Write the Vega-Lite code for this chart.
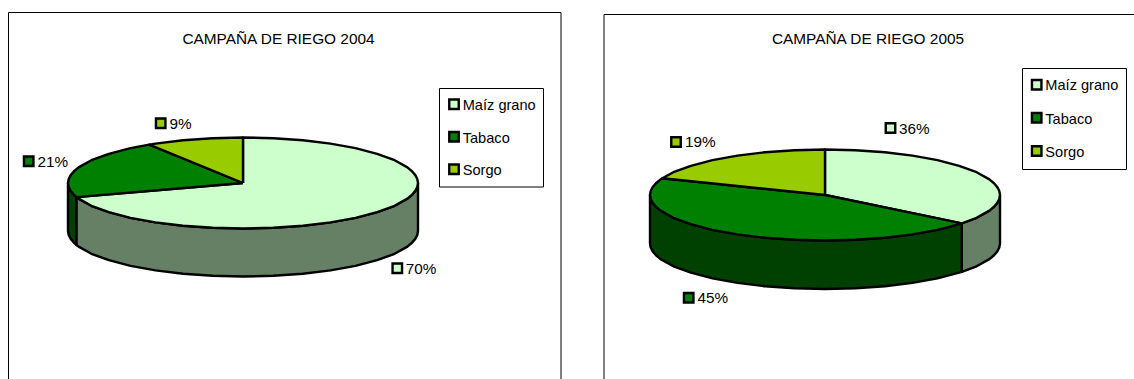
{
  "$schema": "https://vega.github.io/schema/vega-lite/v6.json",
  "width": 1134,
  "height": 379,
  "autosize": {"type": "fit", "contains": "padding"},
  "padding": 0,
  "background": "#ffffff",
  "view": {"stroke": null},
  "config": {"text": {"font": "Liberation Sans"}},
  "datasets": {
    "marcos": [
      {"x": 8.5, "x2": 561, "y": 12.5, "y2": 420},
      {"x": 604, "x2": 1200, "y": 14.5, "y2": 420},
      {"x": 439.5, "x2": 543.5, "y": 88.5, "y2": 187},
      {"x": 1022.5, "x2": 1126.5, "y": 68.5, "y2": 169.5}
    ],
    "titulos": [
      {"t": "CAMPAÑA DE RIEGO 2004", "x": 278.5, "y": 44},
      {"t": "CAMPAÑA DE RIEGO 2005", "x": 868, "y": 44}
    ],
    "laterales": [
      {"a": 2004, "s": "Tabaco (lateral)", "x": 76.6, "y": 197.1, "y2": 245.1},
      {"a": 2004, "s": "Tabaco (lateral)", "x": 74, "y": 194.8, "y2": 242.8},
      {"a": 2004, "s": "Tabaco (lateral)", "x": 70.7, "y": 190.9, "y2": 238.9},
      {"a": 2004, "s": "Tabaco (lateral)", "x": 68.7, "y": 187, "y2": 235},
      {"a": 2004, "s": "Tabaco (lateral)", "x": 68, "y": 183, "y2": 231},
      {"a": 2004, "s": "Maíz grano (lateral)", "x": 418, "y": 183, "y2": 231},
      {"a": 2004, "s": "Maíz grano (lateral)", "x": 417.3, "y": 187, "y2": 235},
      {"a": 2004, "s": "Maíz grano (lateral)", "x": 415.3, "y": 190.9, "y2": 238.9},
      {"a": 2004, "s": "Maíz grano (lateral)", "x": 412, "y": 194.8, "y2": 242.8},
      {"a": 2004, "s": "Maíz grano (lateral)", "x": 407.4, "y": 198.6, "y2": 246.6},
      {"a": 2004, "s": "Maíz grano (lateral)", "x": 394.6, "y": 205.8, "y2": 253.8},
      {"a": 2004, "s": "Maíz grano (lateral)", "x": 377.1, "y": 212.2, "y2": 260.2},
      {"a": 2004, "s": "Maíz grano (lateral)", "x": 355.5, "y": 217.9, "y2": 265.9},
      {"a": 2004, "s": "Maíz grano (lateral)", "x": 330.5, "y": 222.4, "y2": 270.4},
      {"a": 2004, "s": "Maíz grano (lateral)", "x": 302.9, "y": 225.8, "y2": 273.8},
      {"a": 2004, "s": "Maíz grano (lateral)", "x": 273.4, "y": 227.8, "y2": 275.8},
      {"a": 2004, "s": "Maíz grano (lateral)", "x": 243, "y": 228.5, "y2": 276.5},
      {"a": 2004, "s": "Maíz grano (lateral)", "x": 212.6, "y": 227.8, "y2": 275.8},
      {"a": 2004, "s": "Maíz grano (lateral)", "x": 183.1, "y": 225.8, "y2": 273.8},
      {"a": 2004, "s": "Maíz grano (lateral)", "x": 155.5, "y": 222.4, "y2": 270.4},
      {"a": 2004, "s": "Maíz grano (lateral)", "x": 130.5, "y": 217.9, "y2": 265.9},
      {"a": 2004, "s": "Maíz grano (lateral)", "x": 108.9, "y": 212.2, "y2": 260.2},
      {"a": 2004, "s": "Maíz grano (lateral)", "x": 91.4, "y": 205.8, "y2": 253.8},
      {"a": 2004, "s": "Maíz grano (lateral)", "x": 78.6, "y": 198.6, "y2": 246.6},
      {"a": 2004, "s": "Maíz grano (lateral)", "x": 76.6, "y": 197.1, "y2": 245.1},
      {"a": 2005, "s": "Maíz grano (lateral)", "x": 1000, "y": 195, "y2": 243.5},
      {"a": 2005, "s": "Maíz grano (lateral)", "x": 999.3, "y": 199, "y2": 247.5},
      {"a": 2005, "s": "Maíz grano (lateral)", "x": 997.3, "y": 202.9, "y2": 251.4},
      {"a": 2005, "s": "Maíz grano (lateral)", "x": 994, "y": 206.8, "y2": 255.3},
      {"a": 2005, "s": "Maíz grano (lateral)", "x": 989.4, "y": 210.6, "y2": 259.1},
      {"a": 2005, "s": "Maíz grano (lateral)", "x": 976.6, "y": 217.8, "y2": 266.3},
      {"a": 2005, "s": "Maíz grano (lateral)", "x": 961.8, "y": 223.4, "y2": 271.9},
      {"a": 2005, "s": "Tabaco (lateral)", "x": 961.8, "y": 223.4, "y2": 271.9},
      {"a": 2005, "s": "Tabaco (lateral)", "x": 959.1, "y": 224.2, "y2": 272.7},
      {"a": 2005, "s": "Tabaco (lateral)", "x": 937.5, "y": 229.9, "y2": 278.4},
      {"a": 2005, "s": "Tabaco (lateral)", "x": 912.5, "y": 234.4, "y2": 282.9},
      {"a": 2005, "s": "Tabaco (lateral)", "x": 884.9, "y": 237.8, "y2": 286.3},
      {"a": 2005, "s": "Tabaco (lateral)", "x": 855.4, "y": 239.8, "y2": 288.3},
      {"a": 2005, "s": "Tabaco (lateral)", "x": 825, "y": 240.5, "y2": 289},
      {"a": 2005, "s": "Tabaco (lateral)", "x": 794.6, "y": 239.8, "y2": 288.3},
      {"a": 2005, "s": "Tabaco (lateral)", "x": 765.1, "y": 237.8, "y2": 286.3},
      {"a": 2005, "s": "Tabaco (lateral)", "x": 737.5, "y": 234.4, "y2": 282.9},
      {"a": 2005, "s": "Tabaco (lateral)", "x": 712.5, "y": 229.9, "y2": 278.4},
      {"a": 2005, "s": "Tabaco (lateral)", "x": 690.9, "y": 224.2, "y2": 272.7},
      {"a": 2005, "s": "Tabaco (lateral)", "x": 673.4, "y": 217.8, "y2": 266.3},
      {"a": 2005, "s": "Tabaco (lateral)", "x": 660.6, "y": 210.6, "y2": 259.1},
      {"a": 2005, "s": "Tabaco (lateral)", "x": 656, "y": 206.8, "y2": 255.3},
      {"a": 2005, "s": "Tabaco (lateral)", "x": 652.7, "y": 202.9, "y2": 251.4},
      {"a": 2005, "s": "Tabaco (lateral)", "x": 650.7, "y": 199, "y2": 247.5},
      {"a": 2005, "s": "Tabaco (lateral)", "x": 650, "y": 195, "y2": 243.5}
    ],
    "sectores": [
      {"a": 2004, "s": "Maíz grano", "i": 0, "x": 243, "y": 183},
      {"a": 2004, "s": "Maíz grano", "i": 1, "x": 243, "y": 137.5},
      {"a": 2004, "s": "Maíz grano", "i": 2, "x": 273.4, "y": 138.2},
      {"a": 2004, "s": "Maíz grano", "i": 3, "x": 302.9, "y": 140.2},
      {"a": 2004, "s": "Maíz grano", "i": 4, "x": 330.5, "y": 143.6},
      {"a": 2004, "s": "Maíz grano", "i": 5, "x": 355.5, "y": 148.1},
      {"a": 2004, "s": "Maíz grano", "i": 6, "x": 377.1, "y": 153.8},
      {"a": 2004, "s": "Maíz grano", "i": 7, "x": 394.6, "y": 160.2},
      {"a": 2004, "s": "Maíz grano", "i": 8, "x": 407.4, "y": 167.4},
      {"a": 2004, "s": "Maíz grano", "i": 9, "x": 412, "y": 171.2},
      {"a": 2004, "s": "Maíz grano", "i": 10, "x": 415.3, "y": 175.1},
      {"a": 2004, "s": "Maíz grano", "i": 11, "x": 417.3, "y": 179},
      {"a": 2004, "s": "Maíz grano", "i": 12, "x": 418, "y": 183},
      {"a": 2004, "s": "Maíz grano", "i": 13, "x": 417.3, "y": 187},
      {"a": 2004, "s": "Maíz grano", "i": 14, "x": 415.3, "y": 190.9},
      {"a": 2004, "s": "Maíz grano", "i": 15, "x": 412, "y": 194.8},
      {"a": 2004, "s": "Maíz grano", "i": 16, "x": 407.4, "y": 198.6},
      {"a": 2004, "s": "Maíz grano", "i": 17, "x": 394.6, "y": 205.8},
      {"a": 2004, "s": "Maíz grano", "i": 18, "x": 377.1, "y": 212.2},
      {"a": 2004, "s": "Maíz grano", "i": 19, "x": 355.5, "y": 217.9},
      {"a": 2004, "s": "Maíz grano", "i": 20, "x": 330.5, "y": 222.4},
      {"a": 2004, "s": "Maíz grano", "i": 21, "x": 302.9, "y": 225.8},
      {"a": 2004, "s": "Maíz grano", "i": 22, "x": 273.4, "y": 227.8},
      {"a": 2004, "s": "Maíz grano", "i": 23, "x": 243, "y": 228.5},
      {"a": 2004, "s": "Maíz grano", "i": 24, "x": 212.6, "y": 227.8},
      {"a": 2004, "s": "Maíz grano", "i": 25, "x": 183.1, "y": 225.8},
      {"a": 2004, "s": "Maíz grano", "i": 26, "x": 155.5, "y": 222.4},
      {"a": 2004, "s": "Maíz grano", "i": 27, "x": 130.5, "y": 217.9},
      {"a": 2004, "s": "Maíz grano", "i": 28, "x": 108.9, "y": 212.2},
      {"a": 2004, "s": "Maíz grano", "i": 29, "x": 91.4, "y": 205.8},
      {"a": 2004, "s": "Maíz grano", "i": 30, "x": 78.6, "y": 198.6},
      {"a": 2004, "s": "Maíz grano", "i": 31, "x": 76.6, "y": 197.1},
      {"a": 2004, "s": "Maíz grano", "i": 32, "x": 243, "y": 183},
      {"a": 2004, "s": "Tabaco", "i": 0, "x": 243, "y": 183},
      {"a": 2004, "s": "Tabaco", "i": 1, "x": 76.6, "y": 197.1},
      {"a": 2004, "s": "Tabaco", "i": 2, "x": 74, "y": 194.8},
      {"a": 2004, "s": "Tabaco", "i": 3, "x": 70.7, "y": 190.9},
      {"a": 2004, "s": "Tabaco", "i": 4, "x": 68.7, "y": 187},
      {"a": 2004, "s": "Tabaco", "i": 5, "x": 68, "y": 183},
      {"a": 2004, "s": "Tabaco", "i": 6, "x": 68.7, "y": 179},
      {"a": 2004, "s": "Tabaco", "i": 7, "x": 70.7, "y": 175.1},
      {"a": 2004, "s": "Tabaco", "i": 8, "x": 74, "y": 171.2},
      {"a": 2004, "s": "Tabaco", "i": 9, "x": 78.6, "y": 167.4},
      {"a": 2004, "s": "Tabaco", "i": 10, "x": 91.4, "y": 160.2},
      {"a": 2004, "s": "Tabaco", "i": 11, "x": 108.9, "y": 153.8},
      {"a": 2004, "s": "Tabaco", "i": 12, "x": 130.5, "y": 148.1},
      {"a": 2004, "s": "Tabaco", "i": 13, "x": 149.2, "y": 144.6},
      {"a": 2004, "s": "Tabaco", "i": 14, "x": 243, "y": 183},
      {"a": 2004, "s": "Sorgo", "i": 0, "x": 243, "y": 183},
      {"a": 2004, "s": "Sorgo", "i": 1, "x": 149.2, "y": 144.6},
      {"a": 2004, "s": "Sorgo", "i": 2, "x": 155.5, "y": 143.6},
      {"a": 2004, "s": "Sorgo", "i": 3, "x": 183.1, "y": 140.2},
      {"a": 2004, "s": "Sorgo", "i": 4, "x": 212.6, "y": 138.2},
      {"a": 2004, "s": "Sorgo", "i": 5, "x": 243, "y": 137.5},
      {"a": 2004, "s": "Sorgo", "i": 6, "x": 243, "y": 183},
      {"a": 2005, "s": "Maíz grano", "i": 0, "x": 825, "y": 195},
      {"a": 2005, "s": "Maíz grano", "i": 1, "x": 825, "y": 149.5},
      {"a": 2005, "s": "Maíz grano", "i": 2, "x": 855.4, "y": 150.2},
      {"a": 2005, "s": "Maíz grano", "i": 3, "x": 884.9, "y": 152.2},
      {"a": 2005, "s": "Maíz grano", "i": 4, "x": 912.5, "y": 155.6},
      {"a": 2005, "s": "Maíz grano", "i": 5, "x": 937.5, "y": 160.1},
      {"a": 2005, "s": "Maíz grano", "i": 6, "x": 959.1, "y": 165.8},
      {"a": 2005, "s": "Maíz grano", "i": 7, "x": 976.6, "y": 172.2},
      {"a": 2005, "s": "Maíz grano", "i": 8, "x": 989.4, "y": 179.4},
      {"a": 2005, "s": "Maíz grano", "i": 9, "x": 994, "y": 183.2},
      {"a": 2005, "s": "Maíz grano", "i": 10, "x": 997.3, "y": 187.1},
      {"a": 2005, "s": "Maíz grano", "i": 11, "x": 999.3, "y": 191},
      {"a": 2005, "s": "Maíz grano", "i": 12, "x": 1000, "y": 195},
      {"a": 2005, "s": "Maíz grano", "i": 13, "x": 999.3, "y": 199},
      {"a": 2005, "s": "Maíz grano", "i": 14, "x": 997.3, "y": 202.9},
      {"a": 2005, "s": "Maíz grano", "i": 15, "x": 994, "y": 206.8},
      {"a": 2005, "s": "Maíz grano", "i": 16, "x": 989.4, "y": 210.6},
      {"a": 2005, "s": "Maíz grano", "i": 17, "x": 976.6, "y": 217.8},
      {"a": 2005, "s": "Maíz grano", "i": 18, "x": 961.8, "y": 223.4},
      {"a": 2005, "s": "Maíz grano", "i": 19, "x": 825, "y": 195},
      {"a": 2005, "s": "Tabaco", "i": 0, "x": 825, "y": 195},
      {"a": 2005, "s": "Tabaco", "i": 1, "x": 961.8, "y": 223.4},
      {"a": 2005, "s": "Tabaco", "i": 2, "x": 959.1, "y": 224.2},
      {"a": 2005, "s": "Tabaco", "i": 3, "x": 937.5, "y": 229.9},
      {"a": 2005, "s": "Tabaco", "i": 4, "x": 912.5, "y": 234.4},
      {"a": 2005, "s": "Tabaco", "i": 5, "x": 884.9, "y": 237.8},
      {"a": 2005, "s": "Tabaco", "i": 6, "x": 855.4, "y": 239.8},
      {"a": 2005, "s": "Tabaco", "i": 7, "x": 825, "y": 240.5},
      {"a": 2005, "s": "Tabaco", "i": 8, "x": 794.6, "y": 239.8},
      {"a": 2005, "s": "Tabaco", "i": 9, "x": 765.1, "y": 237.8},
      {"a": 2005, "s": "Tabaco", "i": 10, "x": 737.5, "y": 234.4},
      {"a": 2005, "s": "Tabaco", "i": 11, "x": 712.5, "y": 229.9},
      {"a": 2005, "s": "Tabaco", "i": 12, "x": 690.9, "y": 224.2},
      {"a": 2005, "s": "Tabaco", "i": 13, "x": 673.4, "y": 217.8},
      {"a": 2005, "s": "Tabaco", "i": 14, "x": 660.6, "y": 210.6},
      {"a": 2005, "s": "Tabaco", "i": 15, "x": 656, "y": 206.8},
      {"a": 2005, "s": "Tabaco", "i": 16, "x": 652.7, "y": 202.9},
      {"a": 2005, "s": "Tabaco", "i": 17, "x": 650.7, "y": 199},
      {"a": 2005, "s": "Tabaco", "i": 18, "x": 650, "y": 195},
      {"a": 2005, "s": "Tabaco", "i": 19, "x": 650.7, "y": 191},
      {"a": 2005, "s": "Tabaco", "i": 20, "x": 652.7, "y": 187.1},
      {"a": 2005, "s": "Tabaco", "i": 21, "x": 656, "y": 183.2},
      {"a": 2005, "s": "Tabaco", "i": 22, "x": 660.6, "y": 179.4},
      {"a": 2005, "s": "Tabaco", "i": 23, "x": 662.3, "y": 178.2},
      {"a": 2005, "s": "Tabaco", "i": 24, "x": 825, "y": 195},
      {"a": 2005, "s": "Sorgo", "i": 0, "x": 825, "y": 195},
      {"a": 2005, "s": "Sorgo", "i": 1, "x": 662.3, "y": 178.2},
      {"a": 2005, "s": "Sorgo", "i": 2, "x": 673.4, "y": 172.2},
      {"a": 2005, "s": "Sorgo", "i": 3, "x": 690.9, "y": 165.8},
      {"a": 2005, "s": "Sorgo", "i": 4, "x": 712.5, "y": 160.1},
      {"a": 2005, "s": "Sorgo", "i": 5, "x": 737.5, "y": 155.6},
      {"a": 2005, "s": "Sorgo", "i": 6, "x": 765.1, "y": 152.2},
      {"a": 2005, "s": "Sorgo", "i": 7, "x": 794.6, "y": 150.2},
      {"a": 2005, "s": "Sorgo", "i": 8, "x": 825, "y": 149.5},
      {"a": 2005, "s": "Sorgo", "i": 9, "x": 825, "y": 195}
    ],
    "porcentajes": [
      {"a": 2004, "s": "Maíz grano", "pct": 0.70, "x": 397.3, "y": 268.3, "tx": 405.7, "ty": 274},
      {"a": 2004, "s": "Tabaco", "pct": 0.21, "x": 28.7, "y": 161.3, "tx": 37.5, "ty": 167.3},
      {"a": 2004, "s": "Sorgo", "pct": 0.09, "x": 160.7, "y": 123.3, "tx": 169.5, "ty": 129.3},
      {"a": 2005, "s": "Maíz grano", "pct": 0.36, "x": 890.5, "y": 128, "tx": 899, "ty": 134},
      {"a": 2005, "s": "Tabaco", "pct": 0.45, "x": 688.7, "y": 297.7, "tx": 697.5, "ty": 303.3},
      {"a": 2005, "s": "Sorgo", "pct": 0.19, "x": 676, "y": 142, "tx": 685, "ty": 147.3}
    ],
    "leyendas": [
      {"a": 2004, "s": "Maíz grano", "x": 454, "y": 104.3, "tx": 462.7, "ty": 110.3},
      {"a": 2004, "s": "Tabaco", "x": 454, "y": 136.7, "tx": 462.7, "ty": 143.3},
      {"a": 2004, "s": "Sorgo", "x": 454, "y": 169.3, "tx": 462.7, "ty": 175.3},
      {"a": 2005, "s": "Maíz grano", "x": 1036.7, "y": 84.7, "tx": 1045.3, "ty": 90.3},
      {"a": 2005, "s": "Tabaco", "x": 1036.7, "y": 117.7, "tx": 1045.3, "ty": 124},
      {"a": 2005, "s": "Sorgo", "x": 1036.7, "y": 151, "tx": 1045.3, "ty": 157.3}
    ]
  },
  "layer": [
    {
      "data": {"name": "marcos"},
      "mark": {"type": "rect", "fill": "#ffffff", "stroke": "#000000", "strokeWidth": 1, "clip": true},
      "encoding": {
        "x": {"field": "x", "type": "quantitative", "axis": null, "scale": {"domain": [0, 1134], "nice": false, "zero": false}},
        "x2": {"field": "x2"},
        "y": {"field": "y", "type": "quantitative", "axis": null, "scale": {"domain": [379, 0], "nice": false, "zero": false}},
        "y2": {"field": "y2"}
      }
    },
    {
      "data": {"name": "titulos"},
      "mark": {"type": "text", "font": "Liberation Sans", "fontSize": 15.4, "align": "center", "baseline": "alphabetic", "color": "#000000"},
      "encoding": {
        "x": {"field": "x", "type": "quantitative"},
        "y": {"field": "y", "type": "quantitative"},
        "text": {"field": "t"}
      }
    },
    {
      "data": {"name": "laterales"},
      "mark": {"type": "area", "stroke": "#000000", "strokeWidth": 2.4, "strokeJoin": "round", "opacity": 1},
      "encoding": {
        "x": {"field": "x", "type": "quantitative"},
        "y": {"field": "y", "type": "quantitative"},
        "y2": {"field": "y2"},
        "detail": {"field": "a"},
        "fill": {"field": "s", "type": "nominal", "legend": null,
          "scale": {
            "domain": ["Maíz grano", "Tabaco", "Sorgo", "Maíz grano (lateral)", "Tabaco (lateral)"],
            "range": ["#CCFFCC", "#008000", "#99CC00", "#668066", "#004000"]
          }
        }
      }
    },
    {
      "data": {"name": "sectores"},
      "mark": {"type": "line", "stroke": "#000000", "strokeWidth": 2.4, "strokeJoin": "round"},
      "encoding": {
        "x": {"field": "x", "type": "quantitative"},
        "y": {"field": "y", "type": "quantitative"},
        "order": {"field": "i", "type": "quantitative"},
        "detail": {"field": "a"},
        "fill": {"field": "s", "type": "nominal", "legend": null}
      }
    },
    {
      "data": {"name": "porcentajes"},
      "mark": {"type": "point", "shape": "square", "filled": true, "size": 90, "stroke": "#000000", "strokeWidth": 2.4, "opacity": 1},
      "encoding": {
        "x": {"field": "x", "type": "quantitative"},
        "y": {"field": "y", "type": "quantitative"},
        "fill": {"field": "s", "type": "nominal", "legend": null}
      }
    },
    {
      "data": {"name": "porcentajes"},
      "mark": {"type": "text", "font": "Liberation Sans", "fontSize": 15.3, "align": "left", "baseline": "alphabetic", "color": "#000000"},
      "encoding": {
        "x": {"field": "tx", "type": "quantitative"},
        "y": {"field": "ty", "type": "quantitative"},
        "text": {"field": "pct", "type": "quantitative", "format": ".0%"}
      }
    },
    {
      "data": {"name": "leyendas"},
      "mark": {"type": "point", "shape": "square", "filled": true, "size": 90, "stroke": "#000000", "strokeWidth": 2.4, "opacity": 1},
      "encoding": {
        "x": {"field": "x", "type": "quantitative"},
        "y": {"field": "y", "type": "quantitative"},
        "fill": {"field": "s", "type": "nominal", "legend": null}
      }
    },
    {
      "data": {"name": "leyendas"},
      "mark": {"type": "text", "font": "Liberation Sans", "fontSize": 14.6, "align": "left", "baseline": "alphabetic", "color": "#000000"},
      "encoding": {
        "x": {"field": "tx", "type": "quantitative"},
        "y": {"field": "ty", "type": "quantitative"},
        "text": {"field": "s"}
      }
    }
  ]
}
